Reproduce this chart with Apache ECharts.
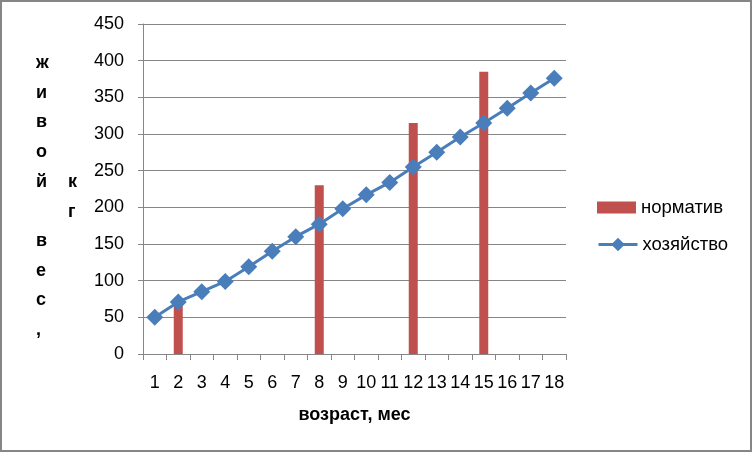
<!DOCTYPE html>
<html>
<head>
<meta charset="utf-8">
<script src="https://cdn.jsdelivr.net/npm/echarts@6/dist/echarts.min.js"></script>
<style>
html,body{margin:0;padding:0;background:#fff;}
#c{width:752px;height:452px;box-sizing:border-box;border:2px solid #868686;}
</style>
</head>
<body>
<div id="c"></div>
<script>
const categories = ['1','2','3','4','5','6','7','8','9','10','11','12','13','14','15','16','17','18'];
const normValues = [null, 70, null, null, null, null, null, 230, null, null, null, 315, null, null, 385, null, null, null];
const farmValues = [50, 71, 85, 99, 119, 140, 160, 177, 198, 217, 234, 255, 275, 296, 315, 335, 356, 376];
const yTitleCol1 = ['ж','и','в','о','й','','в','е','с',','];
const yTitleCol2 = ['к','г'];
const xTitle = 'возраст, мес';
const seriesNames = ['норматив','хозяйство'];

const FONT = 'Liberation Sans';
const chart = echarts.init(document.getElementById('c'), null, {renderer:'canvas'});
chart.setOption({
  animation:false,
  textStyle:{fontFamily:FONT},
  grid:{left:141, right:184, top:22, bottom:96, containLabel:false},
  legend:[
    {
      orient:'vertical', left:590, top:191,
      itemWidth:39, itemHeight:12,
      textStyle:{fontSize:18.5, color:'#000', fontFamily:FONT},
      data:[{name:seriesNames[0], icon:'rect'}]
    },
    {
      orient:'vertical', left:590, top:228,
      itemWidth:39, itemHeight:17,
      lineStyle:{width:3},
      textStyle:{fontSize:18.5, color:'#000', fontFamily:FONT},
      data:[{name:seriesNames[1]}]
    }
  ],
  xAxis:{
    type:'category', data:categories, boundaryGap:true,
    axisLine:{lineStyle:{color:'#868686', width:1}},
    axisTick:{show:true, length:6, inside:false, lineStyle:{color:'#868686'}},
    axisLabel:{color:'#000', fontSize:18, margin:20, interval:0, fontFamily:FONT},
    name:xTitle, nameLocation:'middle', nameGap:52,
    nameTextStyle:{fontSize:18, fontWeight:'bold', color:'#000', fontFamily:FONT}
  },
  yAxis:{
    type:'value', min:0, max:450, interval:50,
    axisLine:{show:true, lineStyle:{color:'#868686', width:1}},
    axisTick:{show:true, length:5, lineStyle:{color:'#868686'}},
    axisLabel:{color:'#000', fontSize:18, margin:19, fontFamily:FONT},
    splitLine:{lineStyle:{color:'#868686', width:1}}
  },
  graphic:[
    {type:'text', left:34, top:46, style:{text:yTitleCol1.join('\n'), font:'bold 18px "Liberation Sans"', lineHeight:29.7, fill:'#000', align:'center'}},
    {type:'text', left:66, top:165, style:{text:yTitleCol2.join('\n'), font:'bold 18px "Liberation Sans"', lineHeight:29.7, fill:'#000', align:'center'}}
  ],
  series:[
    {name:seriesNames[0], type:'bar', data:normValues, barWidth:9, itemStyle:{color:'#C0504D'}, z:2},
    {name:seriesNames[1], type:'line', data:farmValues, symbol:'diamond', symbolSize:17,
     lineStyle:{color:'#4A7EBB', width:3}, itemStyle:{color:'#4A7EBB'}, z:3}
  ]
});
</script>
</body>
</html>
